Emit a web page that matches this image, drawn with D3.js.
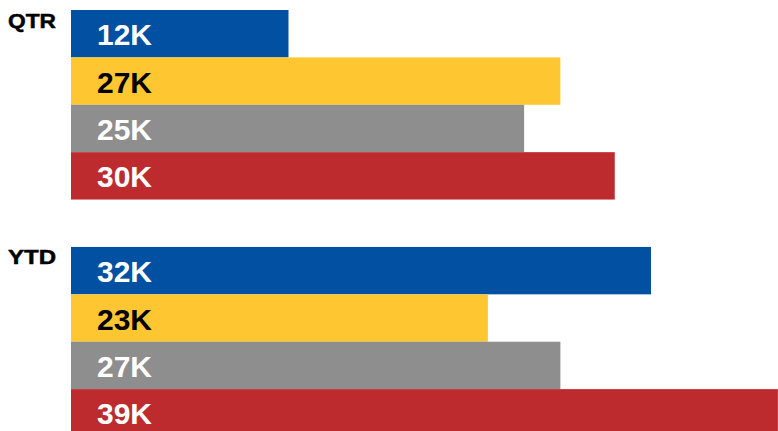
<!DOCTYPE html>
<html>
<head>
<meta charset="utf-8">
<script src="https://cdn.jsdelivr.net/npm/d3@7"></script>
<style>
  html, body { margin: 0; padding: 0; background: #fff; overflow: hidden; }
  svg { display: block; }
</style>
</head>
<body>
<svg id="chart" width="778" height="431"></svg>
<script>
// Period groups and the four series shown within each group
const periods = ["QTR", "YTD"];
const seriesKeys = ["A", "B", "C", "D"];
const seriesColors = ["#0150A1", "#FEC630", "#8E8E8E", "#BE2B2E"];
const labelColors = ["#ffffff", "#000000", "#ffffff", "#ffffff"];

// Values in thousands
const qtrValues = [12, 27, 25, 30];
const ytdValues = [32, 23, 27, 39];
const valuesByPeriod = [qtrValues, ytdValues];

const svg = d3.select("#chart");

const rows = periods.map((p, i) => ({
  period: p,
  bars: seriesKeys.map((k, j) => ({ key: k, value: valuesByPeriod[i][j], color: seriesColors[j], text: labelColors[j] }))
}));

const x = d3.scaleLinear().domain([0, 40]).range([71, 796]);

const yGroup = d3.scaleBand()
  .domain(periods)
  .range([10, 436.5])
  .paddingInner(0.2)
  .paddingOuter(0);

const ySeries = d3.scaleBand()
  .domain(seriesKeys)
  .range([0, yGroup.bandwidth()])
  .padding(0);

const g = svg.selectAll("g.period")
  .data(rows)
  .join("g")
  .attr("class", "period")
  .attr("transform", d => `translate(0,${yGroup(d.period)})`);

// Period label to the left of each group
g.append("text")
  .attr("x", 8)
  .attr("y", 17.5)
  .attr("font-family", "'Liberation Sans', Arial, sans-serif")
  .attr("font-weight", "bold")
  .attr("font-size", 20)
  .attr("textLength", 48)
  .attr("lengthAdjust", "spacingAndGlyphs")
  .attr("fill", "#000")
  .attr("stroke", "#000")
  .attr("stroke-width", 0.5)
  .text(d => d.period);

// Bars
g.selectAll("rect")
  .data(d => d.bars)
  .join("rect")
  .attr("x", x(0))
  .attr("y", d => ySeries(d.key))
  .attr("width", d => x(d.value) - x(0))
  .attr("height", ySeries.bandwidth())
  .attr("fill", d => d.color);

// Value labels inside the bars
g.selectAll("text.value")
  .data(d => d.bars)
  .join("text")
  .attr("class", "value")
  .attr("x", 97)
  .attr("y", d => ySeries(d.key) + ySeries.bandwidth() / 2 + 11.5)
  .attr("font-family", "'Liberation Sans', Arial, sans-serif")
  .attr("font-weight", "bold")
  .attr("font-size", 30)
  .attr("fill", d => d.text)
  .text(d => `${d.value}K`);
</script>
</body>
</html>
